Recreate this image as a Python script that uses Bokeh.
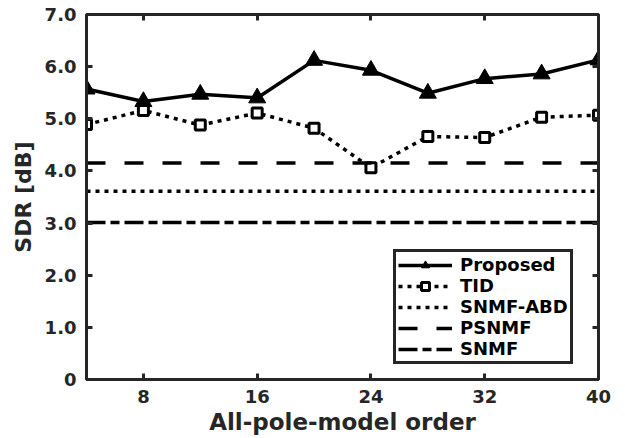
from bokeh.plotting import figure
from bokeh.models import FixedTicker, LinearAxis, Range1d, Legend, LegendItem
from bokeh.embed import file_html
from bokeh.resources import INLINE

# ---- data ----
orders = [4, 8, 12, 16, 20, 24, 28, 32, 36, 40]
proposed = [5.57, 5.33, 5.47, 5.40, 6.12, 5.93, 5.49, 5.77, 5.86, 6.13]
tid = [4.89, 5.16, 4.88, 5.11, 4.82, 4.06, 4.66, 4.64, 5.03, 5.07]
snmf_abd = 3.61
psnmf = 4.15
snmf = 3.01
x_ticks = [8, 16, 24, 32, 40]
y_ticks = [0, 1, 2, 3, 4, 5, 6, 7]
y_tick_labels = ["0", "1.0", "2.0", "3.0", "4.0", "5.0", "6.0", "7.0"]

FONT = "DejaVu Sans"
AX = "#262626"

p = figure(width=625, height=438, output_backend="svg", toolbar_location=None,
           x_range=Range1d(4, 40), y_range=Range1d(0, 7),
           min_border_left=86, min_border_top=14, min_border_right=27,
           min_border_bottom=59)
p.background_fill_color = "white"
p.border_fill_color = "white"
p.grid.visible = False
p.outline_line_color = AX
p.outline_line_width = 3

for ax in (p.xaxis[0], p.yaxis[0]):
    ax.axis_line_color = AX
    ax.axis_line_width = 3
    ax.major_tick_line_color = AX
    ax.major_tick_line_width = 3
    ax.major_tick_in = 6
    ax.major_tick_out = 0
    ax.minor_tick_line_color = None
    ax.major_label_text_font = FONT
    ax.major_label_text_font_style = "bold"
    ax.major_label_text_font_size = "18px"
    ax.major_label_text_color = AX
    ax.axis_label_text_font = FONT
    ax.axis_label_text_font_style = "bold"
    ax.axis_label_text_color = AX

p.xaxis[0].ticker = FixedTicker(ticks=x_ticks)
p.yaxis[0].ticker = FixedTicker(ticks=y_ticks)
p.yaxis[0].major_label_overrides = {t: l for t, l in zip(y_ticks, y_tick_labels)}
p.xaxis[0].axis_label = "All-pole-model order"
p.yaxis[0].axis_label = "SDR [dB]"
p.xaxis[0].axis_label_text_font_size = "23px"
p.yaxis[0].axis_label_text_font_size = "22px"
p.xaxis[0].major_label_standoff = 10
p.yaxis[0].major_label_standoff = 10
p.xaxis[0].axis_label_standoff = 3
p.yaxis[0].axis_label_standoff = 6

# mirrored ticks
top = LinearAxis(ticker=FixedTicker(ticks=x_ticks))
right = LinearAxis(ticker=FixedTicker(ticks=y_ticks))
for ax in (top, right):
    ax.axis_line_color = AX
    ax.axis_line_width = 3
    ax.major_tick_line_color = AX
    ax.major_tick_line_width = 3
    ax.major_tick_in = 6
    ax.major_tick_out = 0
    ax.minor_tick_line_color = None
    ax.major_label_text_font_size = "8px"
    ax.major_label_text_color = None
    ax.major_label_standoff = 0
p.add_layout(top, "above")
p.add_layout(right, "right")

LW = 3.5
x_ends = [orders[0], orders[-1]]

r1 = p.line(orders, proposed, line_color="black", line_width=LW)
m1 = p.scatter(orders, proposed, marker="triangle", size=17, fill_color="black",
               line_color="black", line_width=1)
r2 = p.line(orders, tid, line_color="black", line_width=LW, line_dash="4 5")
m2 = p.scatter(orders, tid, marker="square", size=10, fill_color="white",
               line_color="black", line_width=3)
r3 = p.line(x_ends, [snmf_abd, snmf_abd], line_color="black", line_width=LW,
            line_dash="4 5")
r4 = p.line(x_ends, [psnmf, psnmf], line_color="black", line_width=LW,
            line_dash="19 19")
r5 = p.line(x_ends, [snmf, snmf], line_color="black", line_width=LW,
            line_dash="19 5 9 5")

legend = Legend(items=[
    LegendItem(label="Proposed", renderers=[r1, m1]),
    LegendItem(label="TID", renderers=[r2, m2]),
    LegendItem(label="SNMF-ABD", renderers=[r3]),
    LegendItem(label="PSNMF", renderers=[r4]),
    LegendItem(label="SNMF", renderers=[r5]),
], location=(307, 15))
legend.label_text_font = FONT
legend.label_text_font_style = "bold"
legend.label_text_font_size = "18px"
legend.label_text_color = "black"
legend.glyph_width = 54
legend.glyph_height = 20
legend.label_height = 20
legend.label_standoff = 8
legend.spacing = 0
legend.padding = 2
legend.margin = 0
legend.border_line_color = AX
legend.border_line_width = 3
legend.border_line_alpha = 1
legend.background_fill_color = "white"
legend.background_fill_alpha = 1
p.add_layout(legend, "center")

open("out.html", "w").write(file_html(p, INLINE))
